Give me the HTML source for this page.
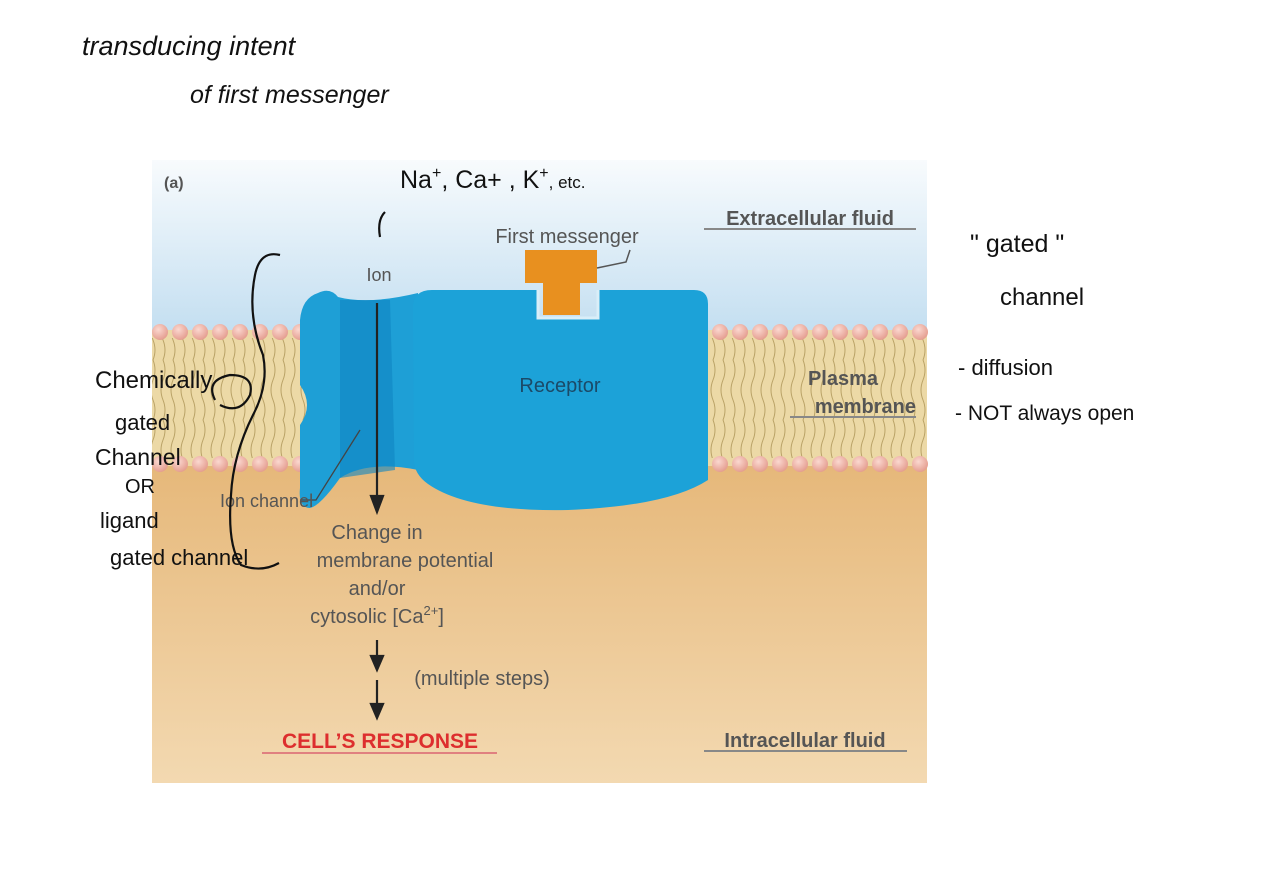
<!DOCTYPE html>
<html><head><meta charset="utf-8"><style>
html,body{margin:0;padding:0;background:#fff;}
svg{display:block;}
.h{font-family:"Liberation Sans",sans-serif;fill:#111;font-weight:normal;}
.d{font-family:"Liberation Sans",sans-serif;}
</style></head><body>
<svg width="1280" height="896" viewBox="0 0 1280 896" xmlns="http://www.w3.org/2000/svg">
<defs>
<linearGradient id="ext" x1="0" y1="0" x2="0" y2="1">
<stop offset="0" stop-color="#f8fbfd"/><stop offset="1" stop-color="#c4dff1"/></linearGradient>
<linearGradient id="int" x1="0" y1="0" x2="0" y2="1">
<stop offset="0" stop-color="#e6b87a"/><stop offset="1" stop-color="#f3d9b1"/></linearGradient>
<radialGradient id="head" cx="0.4" cy="0.35" r="0.7">
<stop offset="0" stop-color="#fbd8d0"/><stop offset="1" stop-color="#e39a8c"/></radialGradient>
<pattern id="tails" x="0" y="0" width="10" height="60" patternUnits="userSpaceOnUse">
<path d="M3 0 q4 10 0 20 q-4 10 0 20 q4 10 0 20" stroke="#b9a266" stroke-width="1" fill="none"/>
</pattern>
</defs>
<rect width="1280" height="896" fill="#fff"/>
<rect x="152" y="160" width="775" height="170" fill="url(#ext)"/>
<rect x="152" y="330" width="775" height="140" fill="#ecd9a6"/>
<rect x="152" y="338" width="775" height="60" fill="url(#tails)"/>
<rect x="152" y="398" width="775" height="60" fill="url(#tails)"/>
<rect x="152" y="466" width="775" height="317" fill="url(#int)"/>
<g fill="url(#head)">
<circle cx="160" cy="332" r="8"/><circle cx="180" cy="332" r="8"/><circle cx="200" cy="332" r="8"/><circle cx="220" cy="332" r="8"/><circle cx="240" cy="332" r="8"/><circle cx="260" cy="332" r="8"/><circle cx="280" cy="332" r="8"/><circle cx="300" cy="332" r="8"/>
<circle cx="160" cy="464" r="8"/><circle cx="180" cy="464" r="8"/><circle cx="200" cy="464" r="8"/><circle cx="220" cy="464" r="8"/><circle cx="240" cy="464" r="8"/><circle cx="260" cy="464" r="8"/><circle cx="280" cy="464" r="8"/><circle cx="300" cy="464" r="8"/>
<circle cx="720" cy="332" r="8"/><circle cx="740" cy="332" r="8"/><circle cx="760" cy="332" r="8"/><circle cx="780" cy="332" r="8"/><circle cx="800" cy="332" r="8"/><circle cx="820" cy="332" r="8"/><circle cx="840" cy="332" r="8"/><circle cx="860" cy="332" r="8"/><circle cx="880" cy="332" r="8"/><circle cx="900" cy="332" r="8"/><circle cx="920" cy="332" r="8"/>
<circle cx="720" cy="464" r="8"/><circle cx="740" cy="464" r="8"/><circle cx="760" cy="464" r="8"/><circle cx="780" cy="464" r="8"/><circle cx="800" cy="464" r="8"/><circle cx="820" cy="464" r="8"/><circle cx="840" cy="464" r="8"/><circle cx="860" cy="464" r="8"/><circle cx="880" cy="464" r="8"/><circle cx="900" cy="464" r="8"/><circle cx="920" cy="464" r="8"/>
</g>
<!-- channel -->
<path d="M318 293 q12 -6 20 4 q30 8 80 -4 L418 470 q-50 -10 -78 8 q-20 28 -30 30 q-12 0 -10 -20 L300 425 q14 -20 0 -40 L300 320 q2 -22 18 -27z" fill="#1e9fd6"/>
<path d="M340 300 L390 300 L395 470 L340 478z" fill="#0f86c2" opacity="0.6"/>
<!-- receptor -->
<path d="M432 290 L538 290 L538 318 L598 318 L598 290 L694 290 q14 0 14 14 L708 480 q-40 26 -140 30 q-100 2 -140 -26 q-14 -10 -14 -24 L413 308 q0 -18 19 -18z" fill="#1ca2d8"/>
<path d="M538 290 L538 318 L598 318 L598 290" fill="none" stroke="#d9eef8" stroke-width="3"/>
<!-- first messenger -->
<path d="M525 250 L597 250 L597 283 L580 283 L580 315 L543 315 L543 283 L525 283z" fill="#e8901f"/>
<path d="M597 268 L626 262 L630 250" stroke="#555" stroke-width="1.5" fill="none"/>
<!-- arrows -->
<g stroke="#222" stroke-width="2.2" fill="#222">
<line x1="377" y1="303" x2="377" y2="498"/><path d="M371 496 L383 496 L377 512z"/>
<line x1="377" y1="640" x2="377" y2="658"/><path d="M371 656 L383 656 L377 670z"/>
<line x1="377" y1="680" x2="377" y2="706"/><path d="M371 704 L383 704 L377 718z"/>
</g>
<path d="M300 500 L316 500 L360 430" stroke="#444" stroke-width="1.3" fill="none"/>
<!-- diagram text -->
<g class="d" fill="#555">
<text x="164" y="188" font-size="16" font-weight="bold">(a)</text>
<text x="567" y="243" font-size="20" text-anchor="middle">First messenger</text>
<text x="379" y="281" font-size="18" text-anchor="middle">Ion</text>
<text x="560" y="392" font-size="20" text-anchor="middle" fill="#1b4a68">Receptor</text>
<text x="220" y="507" font-size="18">Ion channel</text>
<text x="377" y="539" font-size="20" text-anchor="middle">Change in</text>
<text x="405" y="567" font-size="20" text-anchor="middle">membrane potential</text>
<text x="377" y="595" font-size="20" text-anchor="middle">and/or</text>
<text x="377" y="623" font-size="20" text-anchor="middle">cytosolic [Ca<tspan font-size="13" dy="-8">2+</tspan><tspan dy="8">]</tspan></text>
<text x="482" y="685" font-size="20" text-anchor="middle">(multiple steps)</text>
<g font-weight="bold" font-size="20" fill="#555">
<text x="810" y="225" text-anchor="middle">Extracellular fluid</text>
<text x="878" y="385" text-anchor="end">Plasma</text>
<text x="916" y="413" text-anchor="end">membrane</text>
<text x="805" y="747" text-anchor="middle">Intracellular fluid</text>
</g>
<line x1="704" y1="229" x2="916" y2="229" stroke="#888" stroke-width="2"/>
<line x1="790" y1="417" x2="916" y2="417" stroke="#888" stroke-width="2"/>
<line x1="704" y1="751" x2="907" y2="751" stroke="#888" stroke-width="2"/>
<text x="380" y="748" font-size="21" font-weight="bold" text-anchor="middle" fill="#dd2e2e">CELL’S RESPONSE</text>
<line x1="262" y1="753" x2="497" y2="753" stroke="#e08080" stroke-width="2"/>
</g>
<!-- handwriting -->
<g class="h">
<text x="82" y="55" font-size="27" font-style="italic">transducing  intent</text>
<text x="190" y="103" font-size="25" font-style="italic">of  first messenger</text>
<text x="400" y="188" font-size="25">Na<tspan font-size="16" dy="-10">+</tspan><tspan dy="10">, Ca+ , K</tspan><tspan font-size="16" dy="-10">+</tspan><tspan dy="10" font-size="17">, etc.</tspan></text>
<text x="970" y="252" font-size="25">" gated "</text>
<text x="1000" y="305" font-size="24">channel</text>
<text x="958" y="375" font-size="22">-  diffusion</text>
<text x="955" y="420" font-size="21">- NOT  always  open</text>
<text x="95" y="388" font-size="24">Chemically</text>
<text x="115" y="430" font-size="22">gated</text>
<text x="95" y="465" font-size="23">Channel</text>
<text x="125" y="493" font-size="20">OR</text>
<text x="100" y="528" font-size="22">ligand</text>
<text x="110" y="565" font-size="22">gated  channel</text>
</g>
<g stroke="#111" stroke-width="2.2" fill="none">
<path d="M280 255 q-20 -5 -25 20 q-8 40 8 80 q6 30 -10 60 q-20 40 -22 80 q-4 50 10 70 q20 8 38 -2"/>
<path d="M385 212 q-8 8 -5 25"/>
<path d="M215 400 q-10 -20 15 -25 q25 0 20 20 q-10 20 -30 10"/>
</g>
</svg>
</body></html>
